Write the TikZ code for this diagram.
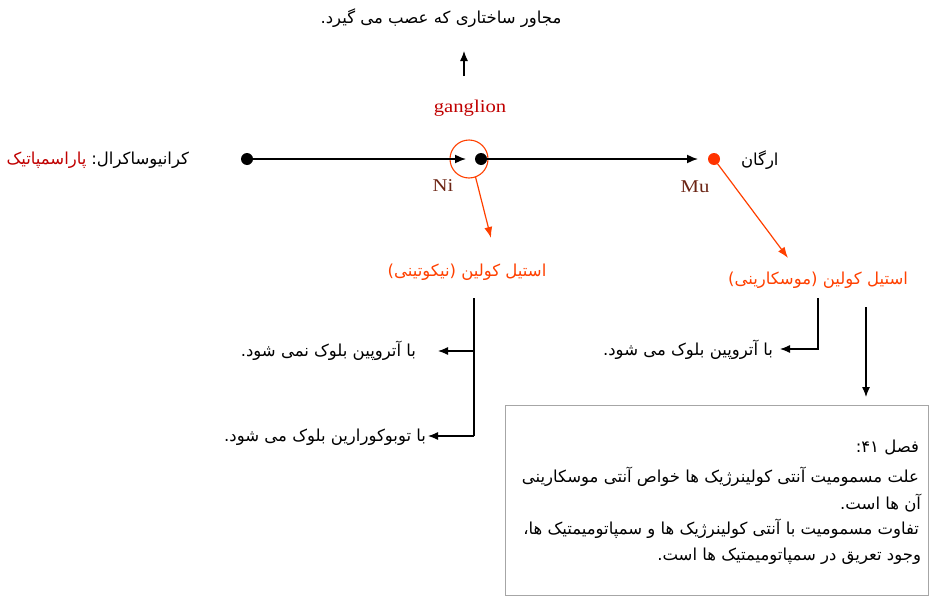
\documentclass[tikz,border=0pt]{standalone}
\usepackage{fontspec}
\setmainfont{Liberation Serif}
\newfontfamily\arabicfont[Script=Arabic]{DejaVu Sans}
\TeXXeTstate=1
\usetikzlibrary{arrows.meta}
\definecolor{gangred}{HTML}{C00000}
\definecolor{achred}{HTML}{FF4000}
\definecolor{dotred}{HTML}{FF3300}
\definecolor{nibrown}{HTML}{6B2414}
\definecolor{boxgray}{HTML}{A6A6A6}
\newcommand{\fa}[1]{{\arabicfont\beginR #1\endR}}
\begin{document}
\begin{tikzpicture}[x=1pt,y=-1pt,
  every node/.style={inner sep=0pt, outer sep=0pt},
  fatext/.style={font=\arabicfont\fontsize{16.5}{19}\selectfont},
  latin/.style={font=\fontsize{18}{20}\selectfont, xscale=1.15, transform shape},
  blackdot/.style={circle, fill=black, minimum size=12pt},
  reddot/.style={circle, fill=dotred, minimum size=12pt},
  mainarrow/.style={line width=1.6pt, -{Latex[length=11pt,width=9pt]}},
  redarrow/.style={achred, line width=1.2pt, -{Latex[length=11pt,width=8pt]}},
  thinarrow/.style={line width=1.2pt, -{Latex[length=10pt,width=8pt]}},
]
\useasboundingbox (0,0) rectangle (934,597);

% top label and its arrow
\node[fatext] (top) at (441,18) {\fa{مجاور ساختاری که عصب می گیرد.}};
\coordinate (upbase) at (464,76);
\coordinate (uptip) at (464,51);
\draw[thinarrow] (upbase) -- (uptip);

% ganglion
\node[latin, text=gangred] (gang) at (470,108) {ganglion};
\node[circle, draw=achred, line width=1.1pt, minimum size=38pt] (gc) at (469,159) {};

% neurons along the pathway
\node[blackdot] (pre) at (247,159) {};
\node[blackdot] (post) at (481,159) {};
\node[reddot] (organ) at (714,159) {};
\draw[mainarrow, shorten >=9pt] (pre) -- (post);
\draw[mainarrow, shorten >=10pt] (post) -- (organ);

\node[latin, text=nibrown] (ni) at (443,186) {Ni};
\node[latin, text=nibrown] (mu) at (695,187) {Mu};
\node[fatext, anchor=west] (org) at (741,160) {\fa{ارگان}};
\node[fatext, anchor=east] (cranio) at (189,160) {\fa{کرانیوساکرال:}};
\node[fatext, anchor=east, text=gangred] (para) at ([xshift=-5pt]cranio.west) {\fa{پاراسمپاتیک}};

% receptor labels
\node[fatext, text=achred] (ach1) at (467,272) {\fa{استیل کولین (نیکوتینی)}};
\node[fatext, text=achred] (ach2) at (818,280) {\fa{استیل کولین (موسکارینی)}};
\coordinate (a1) at (491,238);
\coordinate (a2) at (788,258);
\draw[redarrow] (gc.-70) -- (a1);
\draw[redarrow] (organ) -- (a2);

% nicotinic branch
\node[fatext, anchor=east] (nb1) at (416,351) {\fa{با آتروپین بلوک نمی شود.}};
\node[fatext, anchor=east] (nb2) at (426,437) {\fa{با توبوکورارین بلوک می شود.}};
\coordinate (n0) at (474,298);
\coordinate (n1) at (474,351);
\coordinate (n2) at (474,436);
\coordinate (n1t) at (438,351);
\coordinate (n2t) at (428,436);
\draw[line width=1.2pt] (n0) -- (n2);
\draw[thinarrow] (n1) -- (n1t);
\draw[thinarrow] (n2) -- (n2t);

% muscarinic branch
\node[fatext, anchor=east] (mb1) at (773,350) {\fa{با آتروپین بلوک می شود.}};
\coordinate (m0) at (818,298);
\coordinate (m1) at (818,349);
\coordinate (m1t) at (780,349);
\draw[thinarrow] (m0) -- (m1) -- (m1t);
\coordinate (d0) at (866,307);
\coordinate (d1) at (866,397);
\draw[thinarrow] (d0) -- (d1);

% note box
\node[draw=boxgray, line width=1pt, minimum width=423pt, minimum height=190pt] (box) at (716.5,500) {};
\node[fatext, anchor=east] (l1) at (919,447)
  {{\arabicfont\beginR فصل \beginL ۴۱\endL:\endR}};
\node[fatext, anchor=east] (l2) at (919,477) {\fa{علت مسمومیت آنتی کولینرژیک ها خواص آنتی موسکارینی}};
\node[fatext, anchor=east] (l3) at (921,503) {\fa{آن ها است.}};
\node[fatext, anchor=east] (l4) at (919,529) {\fa{تفاوت مسمومیت با آنتی کولینرژیک ها و سمپاتومیمتیک ها،}};
\node[fatext, anchor=east] (l5) at (921,556) {\fa{وجود تعریق در سمپاتومیمتیک ها است.}};
\end{tikzpicture}
\end{document}
